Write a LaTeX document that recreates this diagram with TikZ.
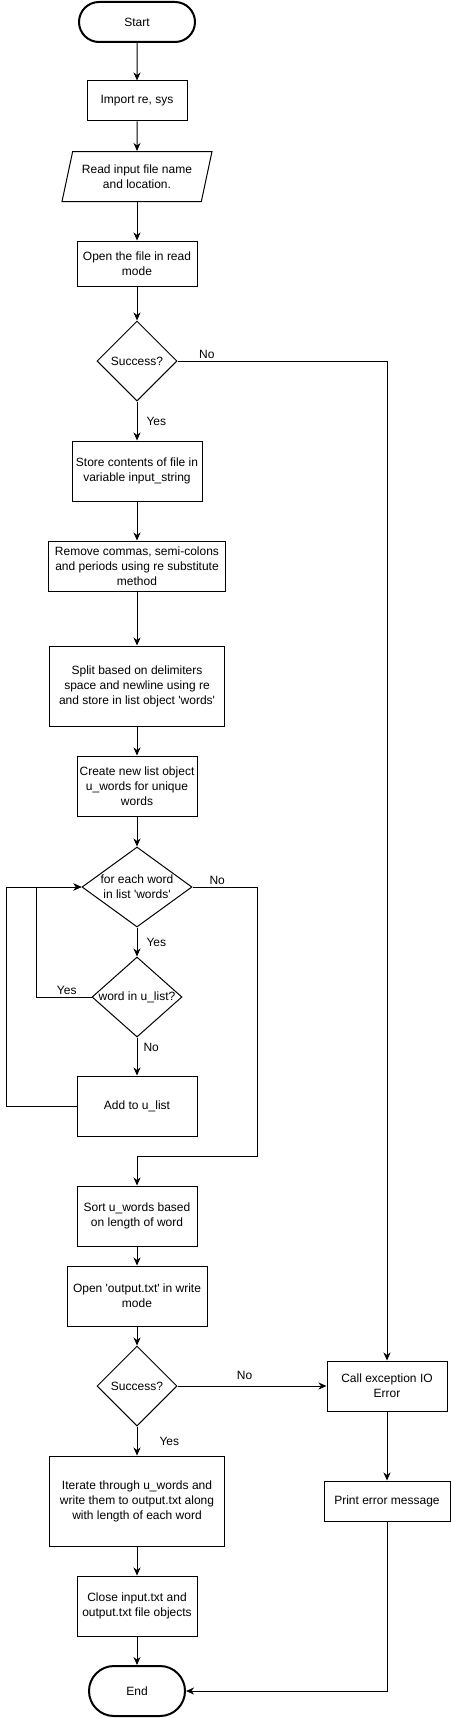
\documentclass[tikz,border=0pt]{standalone}
\usepackage{fontspec}
\setmainfont{Liberation Sans}
\usetikzlibrary{arrows.meta,shapes.geometric,shapes.misc}
\newcommand{\fcfont}{\fontsize{12}{15}\selectfont}
\newcommand{\sq}{\textquotesingle}
\tikzset{
  blk/.style={draw,rectangle,line width=1pt,align=center,inner sep=2pt,font=\fcfont},
  term/.style={blk,rounded rectangle,line width=2pt},
  io/.style={blk,trapezium,trapezium left angle=69,trapezium right angle=111,
             trapezium stretches body},
  dec/.style={draw,diamond,line width=1pt,inner sep=0pt,
              label={[align=center,font=\fcfont,inner sep=0pt]center:#1}},
  flow/.style={-{Stealth[length=8pt,width=7pt,inset=2.5pt]},line width=1pt},
  lbl/.style={font=\fcfont,inner sep=1pt},
}
\begin{document}
\begin{tikzpicture}[x=1pt,y=-1pt]
  \useasboundingbox (0,0) rectangle (451,1718);

  % --- main column --------------------------------------------------------
  \node[term,minimum width=120,minimum height=40] (start) at (137,22) {Start};
  \node[blk,minimum width=100,minimum height=40] (imp) at (137,101) {Import re, sys};
  \node[io,minimum width=150,minimum height=50] (read) at (137,176.5)
        {Read input file name\\and location.};
  \node[blk,minimum width=120,minimum height=45] (open) at (137,263.5)
        {Open the file in read\\mode};
  \node[dec={Success?},minimum width=80,minimum height=80] (ok1) at (137,361) {};
  \node[blk,minimum width=130,minimum height=60] (store) at (137,471)
        {Store contents of file in\\variable input\_string};
  \node[blk,minimum width=177,minimum height=50] (rem) at (137,566)
        {Remove commas, semi-colons\\and periods using re substitute\\method};
  \node[blk,minimum width=175,minimum height=80] (split) at (137,686)
        {Split based on delimiters\\space and newline using re\\and store in list object \sq words\sq};
  \node[blk,minimum width=120,minimum height=60] (create) at (137,786)
        {Create new list object\\u\_words for unique\\words};

  % --- loop over the words ------------------------------------------------
  \node[dec={for each word\\in list \sq words\sq},minimum width=110,minimum height=80]
        (loop) at (137,887) {};
  \node[dec={word in u\_list?},minimum width=90,minimum height=80] (inl) at (137,997) {};
  \node[blk,minimum width=120,minimum height=60] (add) at (137,1106) {Add to u\_list};

  % --- output -------------------------------------------------------------
  \node[blk,minimum width=120,minimum height=60] (sort) at (137,1216)
        {Sort u\_words based\\on length of word};
  \node[blk,minimum width=140,minimum height=60] (outw) at (137,1296)
        {Open \sq output.txt\sq{} in write\\mode};
  \node[dec={Success?},minimum width=80,minimum height=80] (ok2) at (137,1386) {};
  \node[blk,minimum width=175,minimum height=90] (iter) at (137,1501)
        {Iterate through u\_words and\\write them to output.txt along\\with length of each word};
  \node[blk,minimum width=120,minimum height=60] (close) at (137,1606)
        {Close input.txt and\\output.txt file objects};
  \node[term,minimum width=100,minimum height=50] (end) at (137,1691) {End};

  % --- error branch -------------------------------------------------------
  \node[blk,minimum width=120,minimum height=50] (exc) at (387,1386)
        {Call exception IO\\Error};
  \node[blk,minimum width=126,minimum height=40] (prt) at (387,1501)
        {Print error message};

  % --- connectors ---------------------------------------------------------
  \draw[flow] (start) -- (imp);
  \draw[flow] (imp) -- (read);
  \draw[flow] (read) -- (open);
  \draw[flow] (open) -- (ok1);
  \draw[flow] (ok1) -- node[lbl,right=8pt]{Yes} (store);
  \draw[flow] (ok1.east) -- node[lbl,above=1pt,pos=0.14]{No} (exc.north |- ok1.east)
        -- (exc.north);
  \draw[flow] (store) -- (rem);
  \draw[flow] (rem) -- (split);
  \draw[flow] (split) -- (create);
  \draw[flow] (create) -- (loop);
  \draw[flow] (loop) -- node[lbl,right=8pt]{Yes} (inl);
  \draw[flow] (inl) -- node[lbl,right=5pt,pos=0.27]{No} (add);
  % back to the loop head
  \draw[flow] (inl.west) -- node[lbl,above=1pt,pos=0.45]{Yes} ++(-55,0) |- (loop.west);
  \draw[flow] (add.west) -- ++(-70,0) |- (loop.west);
  % loop done
  \draw[flow] (loop.east) -- node[lbl,above=1pt,pos=0.38]{No} ++(65,0) -- ++(0,269)
        -| (sort.north);
  \draw[flow] (sort) -- (outw);
  \draw[flow] (outw) -- (ok2);
  \draw[flow] (ok2) -- node[lbl,right=21pt]{Yes} (iter);
  \draw[flow] (ok2.east) -- node[lbl,above=5pt,pos=0.45]{No} (exc.west);
  \draw[flow] (iter) -- (close);
  \draw[flow] (close) -- (end);
  \draw[flow] (exc) -- (prt);
  \draw[flow] (prt.south) |- (end.east);

\end{tikzpicture}
\end{document}
